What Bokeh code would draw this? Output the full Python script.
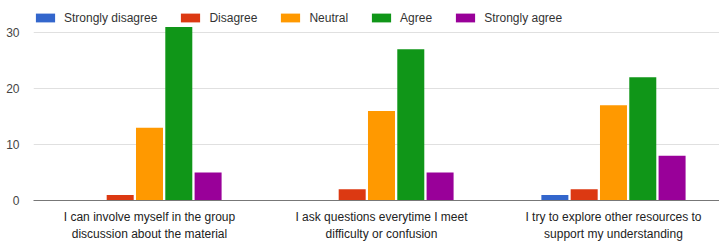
from bokeh.plotting import figure
from bokeh.models import Range1d, FixedTicker, ColumnDataSource, Legend, LegendItem
from bokeh.embed import file_html
from bokeh.resources import INLINE

questions = [
    "I can involve myself in the group\ndiscussion about the material",
    "I ask questions everytime I meet\ndifficulty or confusion",
    "I try to explore other resources to\nsupport my understanding",
]
responses = ["Strongly disagree", "Disagree", "Neutral", "Agree", "Strongly agree"]
strongly_disagree = [0, 0, 1]
disagree = [1, 2, 2]
neutral = [13, 16, 17]
agree = [31, 27, 22]
strongly_agree = [5, 5, 8]
y_ticks = [0, 10, 20, 30]

series = [strongly_disagree, disagree, neutral, agree, strongly_agree]
colors = ["#3366cc", "#dc3912", "#ff9900", "#109618", "#990099"]
FONT = "Liberation Sans"

centers = [i + 0.5 for i in range(len(questions))]

p = figure(frame_width=686, frame_height=192, output_backend="svg", toolbar_location=None,
           x_range=Range1d(0, 2.957), y_range=Range1d(0, 34.29),
           min_border_left=33, min_border_right=0, min_border_top=8, min_border_bottom=42)
p.outline_line_color = None
p.background_fill_color = "white"

items = []
step = 0.1263
for k, (name, vals, col) in enumerate(zip(responses, series, colors)):
    off = (k - 2) * step
    src = ColumnDataSource(dict(x=[c + off for c in centers], top=vals))
    r = p.vbar(x="x", top="top", width=0.1164, source=src, fill_color=col, line_color=None)
    items.append(LegendItem(label=name, renderers=[r]))

legend = Legend(items=items, orientation="horizontal", location=(0, 175.5),
                glyph_width=24, glyph_height=11, label_standoff=7, spacing=21,
                padding=0, margin=0, border_line_color=None, background_fill_alpha=0,
                label_text_font=FONT, label_text_font_size="12px", label_text_color="#333333",
                label_height=11)
p.add_layout(legend, "center")

p.xaxis.ticker = FixedTicker(ticks=centers)
p.xaxis.major_label_overrides = {c: q for c, q in zip(centers, questions)}
p.xaxis.major_tick_line_color = None
p.xaxis.minor_tick_line_color = None
p.xaxis.axis_line_color = "#777777"
p.xaxis.major_label_text_font = FONT
p.xaxis.major_label_text_font_size = "12px"
p.xaxis.major_label_text_color = "#222222"
p.xaxis.major_label_text_line_height = 1.25
p.xaxis.major_label_standoff = 3
p.xgrid.grid_line_color = None

p.yaxis.ticker = FixedTicker(ticks=y_ticks)
p.yaxis.axis_line_color = None
p.yaxis.major_tick_line_color = None
p.yaxis.minor_tick_line_color = None
p.yaxis.major_label_text_font = FONT
p.yaxis.major_label_text_font_size = "12px"
p.yaxis.major_label_text_color = "#444444"
p.yaxis.major_label_standoff = 8
p.ygrid.grid_line_color = "#e0e0e0"
p.ygrid.ticker = FixedTicker(ticks=[10, 20, 30])

open("out.html", "w").write(file_html(p, INLINE))
